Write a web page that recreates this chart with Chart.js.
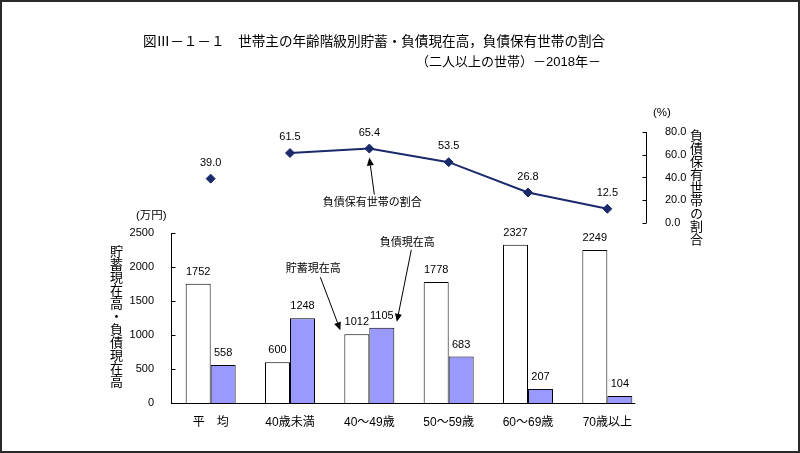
<!DOCTYPE html>
<html lang="ja">
<head>
<meta charset="utf-8">
<script src="https://cdn.jsdelivr.net/npm/chart.js@4.4.1/dist/chart.umd.min.js"></script>
<style>
  html, body { margin: 0; padding: 0; background: #fff; }
  #wrap { position: relative; width: 800px; height: 453px; overflow: hidden; }
  #chart { position: absolute; left: 0; top: 0; }
  .txt { position: absolute; color: #000; font-family: "Liberation Sans", "Noto Sans CJK JP", sans-serif; white-space: nowrap; }
  .jp { font-family: "Noto Sans CJK JP", sans-serif; }
  .vert { writing-mode: vertical-rl; text-orientation: upright; line-height: 1; font-family: "Noto Sans CJK JP", sans-serif; }
  #frame { position: absolute; left: 0; top: 0; width: 800px; height: 453px; box-sizing: border-box; border: 2px solid #2a2a2a; pointer-events: none; }
</style>
</head>
<body>
<div id="wrap">
  <canvas id="chart" width="800" height="453"></canvas>
  <div class="txt jp" style="left:143px;top:30px;font-size:13.6px;line-height:20px;">図Ⅲ－１－１　世帯主の年齢階級別貯蓄・負債現在高，負債保有世帯の割合</div>
  <div class="txt" style="left:416px;top:52px;font-size:13px;line-height:20px;">（二人以上の世帯）－2018年－</div>
  <div class="txt" style="left:136px;top:207px;font-size:11.5px;line-height:16px;">(万円)</div>
  <div class="txt" style="left:653px;top:104px;font-size:11.5px;line-height:16px;">(%)</div>
  <div class="txt vert" style="left:110px;top:245px;font-size:13px;">貯蓄現在高・負債現在高</div>
  <div class="txt vert" style="left:690px;top:129px;font-size:13px;">負債保有世帯の割合</div>
  <div id="frame"></div>
</div>
<script>
'use strict';

// ── Data ──────────────────────────────────────────────────────────
const CATEGORIES  = ['平　均', '40歳未満', '40～49歳', '50～59歳', '60～69歳', '70歳以上'];
const SAVINGS     = [1752, 600, 1012, 1778, 2327, 2249];   // 貯蓄現在高 (万円)
const DEBT        = [558, 1248, 1105, 683, 207, 104];      // 負債現在高 (万円)
const DEBT_RATIO  = [39.0, 61.5, 65.4, 53.5, 26.8, 12.5];  // 負債保有世帯の割合 (%)
const LEFT_TICKS  = [0, 500, 1000, 1500, 2000, 2500];
const RIGHT_TICKS = [0, 20, 40, 60, 80];

const NAVY   = '#1b2a6b';
const PURPLE = '#9999ff';
const NUM_FONT = "'Liberation Sans', Arial, sans-serif";
const JP_FONT  = "'Liberation Sans', 'Noto Sans CJK JP', sans-serif";

// ── Helpers ───────────────────────────────────────────────────────
function drawArrow(ctx, x1, y1, x2, y2) {
  const a = Math.atan2(y2 - y1, x2 - x1), h = 8, w = 3.5;
  const bx = x2 - h * Math.cos(a), by = y2 - h * Math.sin(a);
  ctx.beginPath();
  ctx.moveTo(x1, y1);
  ctx.lineTo(bx, by);
  ctx.stroke();
  ctx.beginPath();
  ctx.moveTo(x2, y2);
  ctx.lineTo(bx + w * Math.sin(a), by - w * Math.cos(a));
  ctx.lineTo(bx - w * Math.sin(a), by + w * Math.cos(a));
  ctx.closePath();
  ctx.fill();
}

// ── Axes lines, value labels and callouts ─────────────────────────
const decorations = {
  id: 'decorations',
  afterDatasetsDraw(chart) {
    const { ctx, chartArea: ca, scales } = chart;
    const y = scales.y, y2 = scales.y2;
    const savMeta = chart.getDatasetMeta(0).data;
    const debtMeta = chart.getDatasetMeta(1).data;
    const lineMeta = chart.getDatasetMeta(2).data;

    ctx.save();
    ctx.strokeStyle = '#000';
    ctx.fillStyle = '#000';
    ctx.lineWidth = 1;

    // left axis
    const lx = Math.round(ca.left) + 0.5;
    ctx.beginPath();
    ctx.moveTo(lx, y.getPixelForValue(0));
    ctx.lineTo(lx, y.getPixelForValue(LEFT_TICKS[LEFT_TICKS.length - 1]));
    LEFT_TICKS.forEach(v => {
      const py = Math.round(y.getPixelForValue(v)) + 0.5;
      ctx.moveTo(lx, py); ctx.lineTo(lx + 4, py);
    });
    ctx.stroke();

    // right axis
    const rx = Math.round(ca.right) - 0.5;
    ctx.beginPath();
    ctx.moveTo(rx, y2.getPixelForValue(0));
    ctx.lineTo(rx, y2.getPixelForValue(RIGHT_TICKS[RIGHT_TICKS.length - 1]));
    RIGHT_TICKS.forEach(v => {
      const py = Math.round(y2.getPixelForValue(v)) + 0.5;
      ctx.moveTo(rx, py); ctx.lineTo(rx - 4, py);
    });
    ctx.stroke();

    // bottom axis
    const last = debtMeta[debtMeta.length - 1];
    const by = Math.round(y.getPixelForValue(0)) + 0.5;
    ctx.beginPath();
    ctx.moveTo(ca.left, by);
    ctx.lineTo(last.x + last.width / 2 + 3, by);
    ctx.stroke();

    // bar value labels
    ctx.font = `11px ${NUM_FONT}`;
    ctx.textAlign = 'center';
    ctx.textBaseline = 'middle';
    savMeta.forEach((b, i) => ctx.fillText(String(SAVINGS[i]), b.x, b.y - 12));
    debtMeta.forEach((b, i) => ctx.fillText(String(DEBT[i]), b.x, b.y - 12));

    // line value labels
    lineMeta.forEach((p, i) => ctx.fillText(DEBT_RATIO[i].toFixed(1), p.x, p.y - 16));

    // callouts
    ctx.font = `11px ${JP_FONT}`;
    const sb = savMeta[2], sl = sb.x - sb.width / 2;
    ctx.fillText('貯蓄現在高', sl - 31, sb.y - 65);
    drawArrow(ctx, sl - 24, sb.y - 57, sl - 4, sb.y - 4);

    const db = debtMeta[2], dr = db.x + db.width / 2;
    ctx.fillText('負債現在高', dr + 13, db.y - 85);
    drawArrow(ctx, dr + 17, db.y - 78, dr + 2.5, db.y - 6);

    const lp = lineMeta[2];
    ctx.fillText('負債保有世帯の割合', lp.x + 3, lp.y + 54);
    drawArrow(ctx, lp.x + 5, lp.y + 46, lp.x, lp.y + 9);

    ctx.restore();
  },
};

// ── Chart ─────────────────────────────────────────────────────────
new Chart(document.getElementById('chart'), {
  type: 'bar',
  data: {
    labels: CATEGORIES,
    datasets: [
      {
        label: '貯蓄現在高',
        data: SAVINGS,
        backgroundColor: '#ffffff',
        borderColor: '#000',
        borderWidth: 1,
        categoryPercentage: 0.63,
        barPercentage: 1,
        yAxisID: 'y',
      },
      {
        label: '負債現在高',
        data: DEBT,
        backgroundColor: PURPLE,
        borderColor: '#000',
        borderWidth: 1,
        categoryPercentage: 0.63,
        barPercentage: 1,
        yAxisID: 'y',
      },
      {
        type: 'line',
        label: '負債保有世帯の割合',
        data: DEBT_RATIO,
        yAxisID: 'y2',
        borderColor: NAVY,
        borderWidth: 2,
        segment: { borderColor: c => (c.p0DataIndex === 0 ? 'rgba(0,0,0,0)' : NAVY) },
        pointStyle: 'rectRot',
        pointRadius: 4.5,
        pointBackgroundColor: NAVY,
        pointBorderColor: NAVY,
        pointBorderWidth: 1,
        tension: 0,
      },
    ],
  },
  options: {
    responsive: false,
    animation: false,
    layout: { padding: { top: 110, left: 0, right: 0, bottom: 0 } },
    plugins: {
      legend: { display: false },
      tooltip: { enabled: false },
      title: { display: false },
    },
    scales: {
      x: {
        grid: { display: false },
        border: { display: false },
        ticks: { color: '#000', font: { size: 12, family: JP_FONT }, padding: 4, maxRotation: 0, autoSkip: false },
        afterFit: s => { s.height = 50; },
      },
      y: {
        position: 'left',
        min: 0,
        max: 4309,
        grid: { display: false },
        border: { display: false },
        afterBuildTicks: s => { s.ticks = LEFT_TICKS.map(v => ({ value: v })); },
        ticks: { color: '#000', font: { size: 11, family: NUM_FONT }, padding: 9, callback: v => String(v) },
        afterFit: s => { s.width = 171; },
      },
      y2: {
        position: 'right',
        min: -158.24,
        max: 99.34,
        grid: { display: false },
        border: { display: false },
        afterBuildTicks: s => { s.ticks = RIGHT_TICKS.map(v => ({ value: v })); },
        ticks: { color: '#000', font: { size: 11, family: NUM_FONT }, padding: 10, callback: v => v.toFixed(1) },
        afterFit: s => { s.width = 153; },
      },
    },
  },
  plugins: [decorations],
});
</script>
</body>
</html>
